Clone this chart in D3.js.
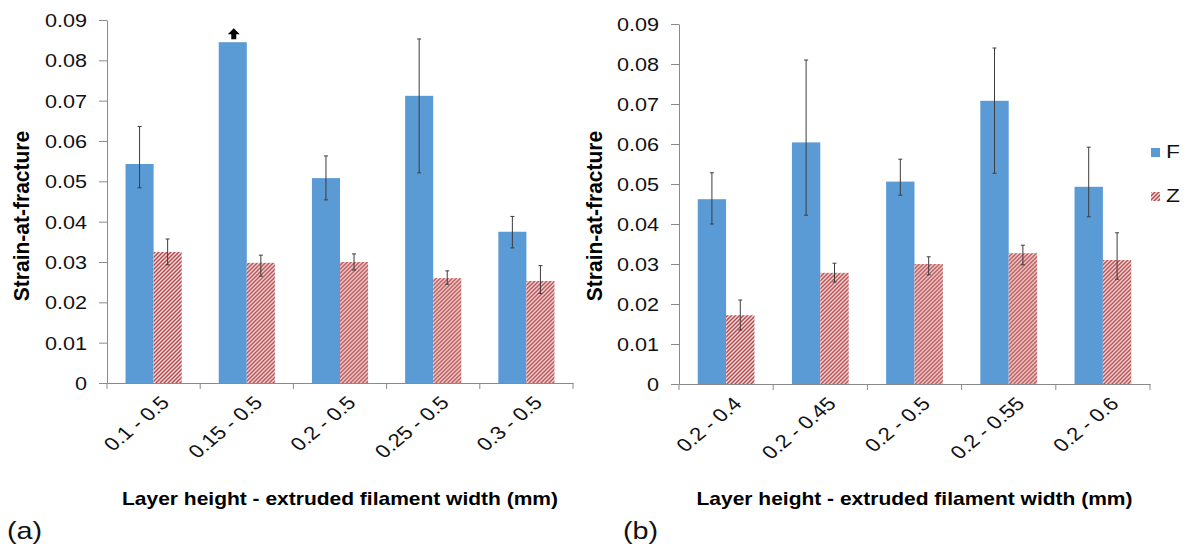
<!DOCTYPE html>
<html>
<head>
<meta charset="utf-8">
<script src="https://cdn.jsdelivr.net/npm/d3@7"></script>
<style>
  body { margin: 0; background: #fff; }
  svg { display: block; font-family: Arial, "Liberation Sans", sans-serif; }
  .domain, .tick line { stroke: #8a8a8a; }
</style>
</head>
<body>
<div id="chart"></div>
<script>
// values
var catsA = ['0.1 - 0.5', '0.15 - 0.5', '0.2 - 0.5', '0.25 - 0.5', '0.3 - 0.5'];
var fA   = [0.0543, 0.0845, 0.0508, 0.0712, 0.0375];
var fAHi = [0.0636, null,   0.0563, 0.0853, 0.0413];
var fALo = [0.0484, null,   0.0454, 0.0521, 0.0335];
var zA   = [0.0325, 0.0298, 0.0300, 0.0260, 0.0253];
var zAHi = [0.0357, 0.0317, 0.0320, 0.0278, 0.0291];
var zALo = [0.0293, 0.0265, 0.0280, 0.0245, 0.0222];

var catsB = ['0.2 - 0.4', '0.2 - 0.45', '0.2 - 0.5', '0.2 - 0.55', '0.2 - 0.6'];
var fB   = [0.0462, 0.0604, 0.0506, 0.0708, 0.0493];
var fBHi = [0.0528, 0.0810, 0.0562, 0.0840, 0.0592];
var fBLo = [0.0400, 0.0422, 0.0472, 0.0527, 0.0418];
var zB   = [0.0172, 0.0278, 0.0300, 0.0327, 0.0310];
var zBHi = [0.0210, 0.0302, 0.0318, 0.0347, 0.0378];
var zBLo = [0.0135, 0.0255, 0.0273, 0.0298, 0.0262];

var series = ['F', 'Z'];
var yTicks = [0, 0.01, 0.02, 0.03, 0.04, 0.05, 0.06, 0.07, 0.08, 0.09];
var yTickLabels = ['0', '0.01', '0.02', '0.03', '0.04', '0.05', '0.06', '0.07', '0.08', '0.09'];
var arrowA = [false, true, false, false, false]; // value runs past the chart

var xTitle = 'Layer height - extruded filament width (mm)';
var yTitle = 'Strain-at-fracture';

var W = 1187, H = 548;
var SX = 1.2; // the picture is stretched sideways
var blue = '#5b9bd5', red = '#c0504d';

var svg = d3.select('#chart').append('svg').attr('width', W).attr('height', H);

// hatch for Z bars
var pat = svg.append('defs').append('pattern')
    .attr('id', 'hatch').attr('patternUnits', 'userSpaceOnUse')
    .attr('width', 4).attr('height', 4);
pat.append('rect').attr('width', 4).attr('height', 4).attr('fill', '#f4e0e0');
pat.append('path').attr('d', 'M-1,1 L1,-1 M0,4 L4,0 M3,5 L5,3')
    .attr('stroke', '#b8474a').attr('stroke-width', 1.45);

function stretchText(g, x, y, s, rot, sx) {
  return g.append('text')
    .attr('transform', 'translate(' + x + ',' + y + ') scale(' + (sx || SX) + ',1)' + (rot ? ' rotate(' + rot + ')' : ''))
    .text(s);
}

function panel(p) {
  var g = svg.append('g');

  var x0 = d3.scaleBand().domain(p.cats).range([p.left, p.right]).padding(0);
  var x1 = d3.scaleBand().domain(series).range([0, x0.bandwidth()]).paddingInner(0).paddingOuter(0.66);
  var y = d3.scaleLinear().domain([0, 0.09]).range([p.bottom, p.top]);

  var rows = p.cats.map(function(c, i) {
    return {cat: c, vals: [
      {s: 'F', v: p.f[i], hi: p.fHi[i], lo: p.fLo[i], arrow: p.arrow ? p.arrow[i] : false},
      {s: 'Z', v: p.z[i], hi: p.zHi[i], lo: p.zLo[i], arrow: false}
    ]};
  });

  // y axis
  var ya = g.append('g').attr('transform', 'translate(' + p.left + ',0)')
    .call(d3.axisLeft(y).tickValues(yTicks).tickSize(8).tickSizeOuter(0)
      .tickFormat(function(d, i) { return yTickLabels[i]; }));
  ya.selectAll('text')
    .attr('x', null).attr('dy', '0.36em')
    .attr('transform', 'translate(-20,0) scale(' + SX + ',1)')
    .style('font-size', '18px').attr('fill', '#111');

  // bars
  var grp = g.selectAll('.grp').data(rows).enter().append('g')
    .attr('transform', function(d) { return 'translate(' + x0(d.cat) + ',0)'; });
  grp.selectAll('rect').data(function(d) { return d.vals; }).enter().append('rect')
    .attr('x', function(d) { return x1(d.s); })
    .attr('width', x1.bandwidth())
    .attr('y', function(d) { return y(d.v); })
    .attr('height', function(d) { return y(0) - y(d.v); })
    .attr('fill', function(d) { return d.s === 'F' ? blue : 'url(#hatch)'; });

  // error bars
  var eb = grp.selectAll('.eb').data(function(d) { return d.vals.filter(function(v) { return v.hi != null; }); })
    .enter().append('g').attr('stroke', '#3c3c3c').attr('stroke-width', 1);
  eb.append('line')
    .attr('x1', function(d) { return x1(d.s) + x1.bandwidth() / 2; })
    .attr('x2', function(d) { return x1(d.s) + x1.bandwidth() / 2; })
    .attr('y1', function(d) { return y(d.hi); })
    .attr('y2', function(d) { return y(d.lo); });
  ['hi', 'lo'].forEach(function(k) {
    eb.append('line')
      .attr('x1', function(d) { return x1(d.s) + x1.bandwidth() / 2 - 2; })
      .attr('x2', function(d) { return x1(d.s) + x1.bandwidth() / 2 + 2; })
      .attr('y1', function(d) { return y(d[k]); })
      .attr('y2', function(d) { return y(d[k]); });
  });

  // arrow above a bar that runs off scale
  grp.selectAll('.arr').data(function(d) { return d.vals.filter(function(v) { return v.arrow; }); })
    .enter().append('path')
    .attr('transform', function(d) {
      return 'translate(' + (x1(d.s) + x1.bandwidth() / 2 + 1) + ',' + (y(d.v) - 3) + ')';
    })
    .attr('d', 'M-2.5,0 L-2.5,-5 L-6,-5 L0,-11 L6,-5 L2.5,-5 L2.5,0 Z')
    .attr('fill', '#000');

  // x axis
  var xa = g.append('g').attr('transform', 'translate(0,' + p.bottom + ')')
    .call(d3.axisBottom(x0).tickSize(0).tickSizeOuter(0));
  xa.selectAll('text').remove();
  var bounds = p.cats.map(function(c) { return x0(c); }).concat([p.right]);
  xa.selectAll('.bt').data(bounds).enter().append('line')
    .attr('x1', function(d) { return d; }).attr('x2', function(d) { return d; })
    .attr('y1', 0).attr('y2', 6).attr('stroke', '#8a8a8a');

  p.cats.forEach(function(c) {
    stretchText(g, x0(c) + x0.bandwidth() / 2 + 17, p.bottom + 21, c, -45)
      .attr('text-anchor', 'end').style('font-size', '18.5px').attr('fill', '#111');
  });

  // titles
  stretchText(g, (p.left + p.right) / 2, 505, xTitle)
    .attr('text-anchor', 'middle').style('font-size', '17.5px').style('font-weight', 'bold');
  stretchText(g, p.yTitleX, 216, yTitle, -90, 1.05)
    .attr('text-anchor', 'middle').style('font-size', '21px').style('font-weight', 'bold');
  stretchText(g, p.tagX, 539, p.tag).style('font-size', '24px').attr('fill', '#111');
}

panel({cats: catsA, f: fA, fHi: fAHi, fLo: fALo, z: zA, zHi: zAHi, zLo: zALo, arrow: arrowA,
  left: 107, right: 573, top: 20, bottom: 383, yTitleX: 29, tagX: 7, tag: '(a)'});
panel({cats: catsB, f: fB, fHi: fBHi, fLo: fBLo, z: zB, zHi: zBHi, zLo: zBLo,
  left: 679, right: 1150, top: 24, bottom: 384, yTitleX: 602, tagX: 623, tag: '(b)'});

// legend
var leg = svg.append('g').selectAll('g').data(series).enter().append('g')
  .attr('transform', function(d, i) { return 'translate(1151,' + (148 + i * 44) + ')'; });
leg.append('rect').attr('width', 9).attr('height', 9)
  .attr('fill', function(d) { return d === 'F' ? blue : 'url(#hatch)'; });
leg.each(function(d) {
  stretchText(d3.select(this), 15, 10, d).style('font-size', '19px').attr('fill', '#111');
});
</script>
</body>
</html>
